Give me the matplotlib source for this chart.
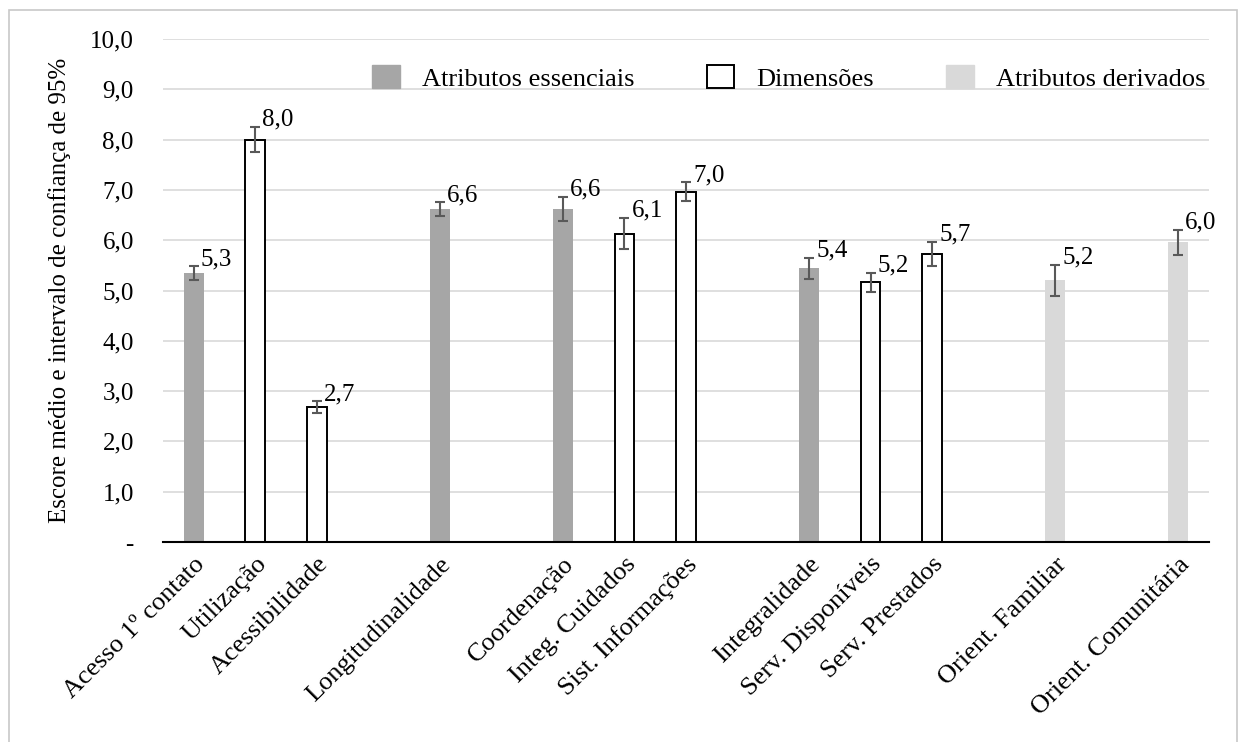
import numpy as np
import matplotlib
matplotlib.use("Agg")
import matplotlib.pyplot as plt
from matplotlib.patches import Patch, Rectangle

nan = np.nan

# categorias do eixo x ("" = espaço vazio entre grupos, como no Excel)
categorias = ["Acesso 1º contato", "Utilização", "Acessibilidade", "",
              "Longitudinalidade", "",
              "Coordenação", "Integ. Cuidados", "Sist. Informações", "",
              "Integralidade", "Serv. Disponíveis", "Serv. Prestados", "",
              "Orient. Familiar", "", "Orient. Comunitária"]
# escore médio
media = [5.34, 8.00, 2.68, nan, 6.62, nan, 6.62, 6.13, 6.96, nan,
         5.44, 5.16, 5.73, nan, 5.20, nan, 5.96]
# meia amplitude do IC 95%
ic95 = [0.14, 0.25, 0.115, nan, 0.13, nan, 0.24, 0.31, 0.19, nan,
        0.21, 0.19, 0.24, nan, 0.31, nan, 0.245]
# tipo: E = atributo essencial, D = dimensão, R = atributo derivado
tipo = ["E", "D", "D", "", "E", "", "E", "D", "D", "",
        "E", "D", "D", "", "R", "", "R"]

nomes_legenda = ["Atributos essenciais", "Dimensões", "Atributos derivados"]

plt.rcParams["font.family"] = ["Liberation Serif", "DejaVu Serif"]
fs = 18

fig = plt.figure(figsize=(12.41, 7.42), dpi=100)
ax = fig.add_axes([163/1241, 200/742, 1046/1241, 503/742])

# moldura externa (cortada embaixo)
fig.patches.append(Rectangle((9/1241, -0.02), 1228/1241, 0.02 + 1 - 10/742,
                             transform=fig.transFigure, fill=False,
                             edgecolor="#c8c8c8", lw=1.2))

estilo = {"E": dict(color="#a6a6a6"),
          "D": dict(facecolor="white", edgecolor="black", linewidth=1.4),
          "R": dict(color="#d9d9d9")}

x = np.arange(len(categorias))
m = np.array(media)
e = np.array(ic95)
for t in ["E", "D", "R"]:
    sel = np.array([tt == t for tt in tipo])
    ax.bar(x[sel], m[sel], width=0.32, zorder=2, **estilo[t])

ok = ~np.isnan(m)
ax.errorbar(x[ok], m[ok], yerr=e[ok], fmt="none", ecolor="#595959",
            elinewidth=1.5, capsize=3.4, capthick=1.5, zorder=3)

for xi, mi, ei in zip(x[ok], m[ok], e[ok]):
    ax.annotate(f"{mi:.1f}".replace(".", ","), (xi, mi + ei),
                xytext=(5, 1), textcoords="offset points",
                ha="left", va="baseline", fontsize=fs)

ax.set_xlim(-0.5, len(categorias) - 0.5)
ax.set_ylim(0, 10)
yt = np.arange(0, 11)
ax.set_yticks(yt, ["-"] + [f"{v:.1f}".replace(".", ",") for v in yt[1:]])
ax.set_xticks(x[ok], [categorias[i] for i in x[ok]], rotation=45,
              ha="right", rotation_mode="anchor")
ax.tick_params(axis="y", length=0, pad=21, labelsize=fs)
ax.tick_params(axis="x", length=0, pad=8, labelsize=19)

ax.grid(axis="y", color="#d9d9d9", lw=1.2, zorder=0)
ax.set_axisbelow(True)
for s in ["top", "right", "left"]:
    ax.spines[s].set_visible(False)
ax.spines["bottom"].set_color("black")
ax.spines["bottom"].set_linewidth(1.5)
ax.spines["bottom"].set_zorder(4)

ax.set_ylabel("Escore médio e intervalo de confiança de 95%", fontsize=fs)
ax.yaxis.set_label_coords(-0.088, 0.5)

handles = [Patch(**estilo["E"]), Patch(**estilo["D"]), Patch(**estilo["R"])]
ax.legend(handles, nomes_legenda, ncol=3, loc="upper left",
          bbox_to_anchor=(0.2, 0.948), frameon=False, fontsize=19,
          handlelength=1.05, handleheight=0.95, handletextpad=0.82,
          columnspacing=2.75, borderpad=0, borderaxespad=0)

fig.savefig("out.png", dpi=100)
